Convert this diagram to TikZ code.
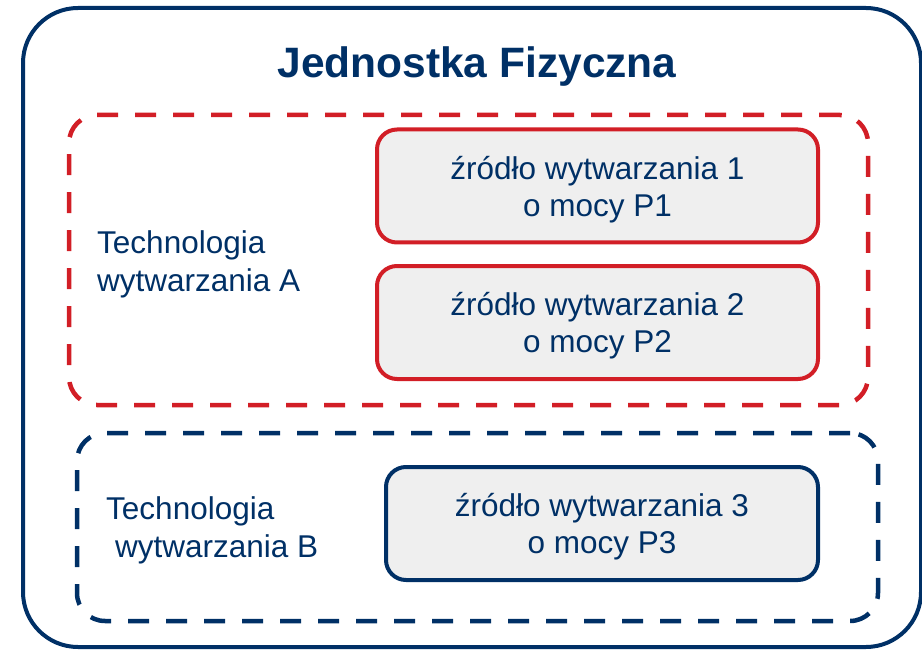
\documentclass[tikz,border=0pt]{standalone}
\usepackage{fontspec}
\setmainfont{Liberation Sans}
\definecolor{navy}{RGB}{0,48,102}
\definecolor{redc}{RGB}{210,30,38}
\definecolor{boxgray}{RGB}{239,239,239}
\begin{document}
\begin{tikzpicture}[x=1pt,y=-1pt,
  outerbox/.style={draw=navy,line width=4pt,rounded corners=55pt,inner sep=0pt},
  groupbox/.style={line width=4.5pt,rounded corners=28pt,dash pattern=on 21pt off 17pt,inner sep=0pt},
  srcbox/.style={line width=4pt,rounded corners=20pt,fill=boxgray,text=navy,align=center,
    font=\fontsize{31.5}{37}\selectfont,inner sep=0pt,text depth=0pt},
  lbl/.style={text=navy,align=left,font=\fontsize{31.5}{38}\selectfont,anchor=base west,inner sep=0pt},
  titlestyle/.style={text=navy,font=\fontsize{42.5}{48}\selectfont\bfseries,anchor=base,inner sep=0pt}
]
\useasboundingbox (0,0) rectangle (922,650);
\node[outerbox,minimum width=898pt,minimum height=639pt] (outer) at (472,327.5) {};
\node[titlestyle] (title) at (477,78) {Jednostka Fizyczna};
\node[groupbox,draw=redc,minimum width=799pt,minimum height=290pt] (ga) at (468.5,260) {};
\node[groupbox,draw=navy,minimum width=801pt,minimum height=188pt] (gb) at (477.5,527) {};
\node[srcbox,draw=redc,minimum width=441pt,minimum height=113pt] (s1) at (597.5,186) {źródło wytwarzania 1\\o mocy P1};
\node[srcbox,draw=redc,minimum width=441pt,minimum height=113pt] (s2) at (597.5,322.5) {źródło wytwarzania 2\\o mocy P2};
\node[srcbox,draw=navy,minimum width=432pt,minimum height=113pt] (s3) at (602,523.5) {źródło wytwarzania 3\\o mocy P3};
\node[lbl] (la) at (97,291) {Technologia\\wytwarzania A};
\node[lbl] (lb) at (106,557) {Technologia\\\hspace*{9pt}wytwarzania B};
\end{tikzpicture}
\end{document}
